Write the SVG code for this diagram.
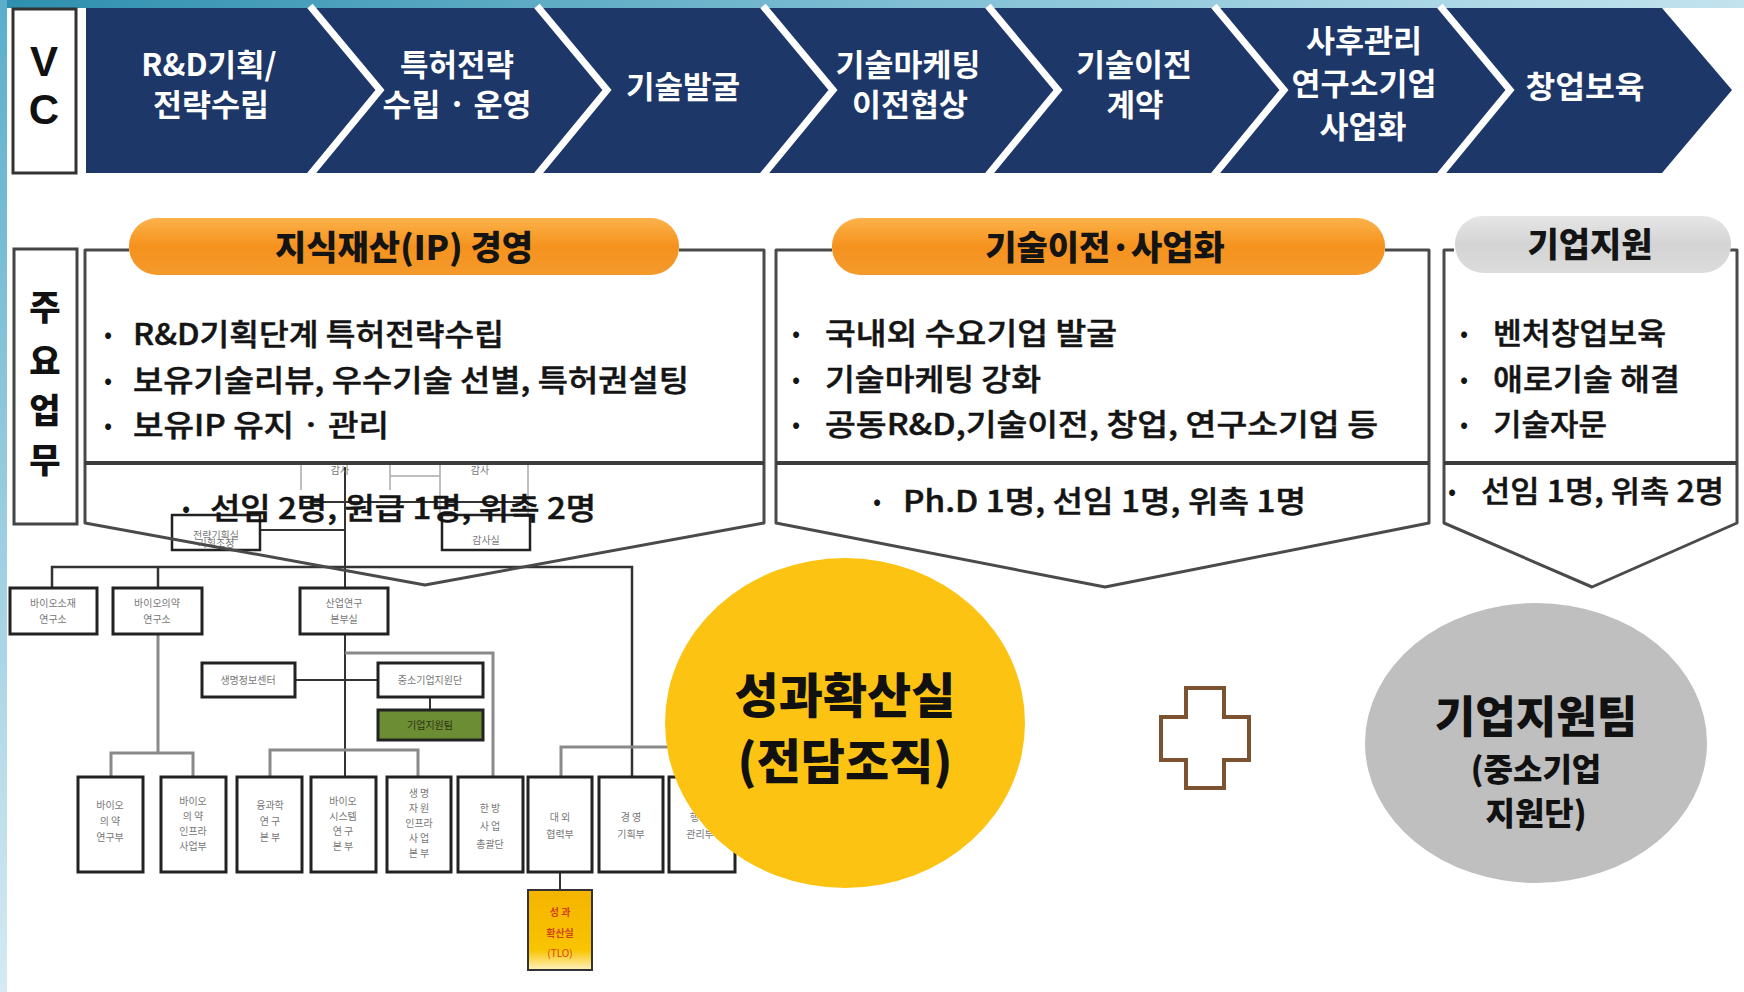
<svg xmlns="http://www.w3.org/2000/svg" width="1744" height="992" viewBox="0 0 1744 992">
<defs>
<linearGradient id="topBand" x1="0" y1="0" x2="1" y2="0"><stop offset="0" stop-color="#2d8fae"/><stop offset="0.6" stop-color="#8cc6da"/><stop offset="1" stop-color="#c3e3ee"/></linearGradient>
<linearGradient id="leftBand" x1="0" y1="0" x2="0" y2="1"><stop offset="0" stop-color="#5aaecb"/><stop offset="1" stop-color="#d5eaf3"/></linearGradient>
<linearGradient id="orangePill" x1="0" y1="0" x2="0" y2="1"><stop offset="0" stop-color="#fbb24a"/><stop offset="0.5" stop-color="#f6921e"/><stop offset="1" stop-color="#f39a2c"/></linearGradient>
<linearGradient id="grayPill" x1="0" y1="0" x2="0" y2="1"><stop offset="0" stop-color="#e6e6e6"/><stop offset="0.5" stop-color="#d4d4d4"/><stop offset="1" stop-color="#dcdcdc"/></linearGradient>
<linearGradient id="tloFill" x1="0" y1="0" x2="0" y2="1"><stop offset="0" stop-color="#f4b400"/><stop offset="0.75" stop-color="#f9c400"/><stop offset="1" stop-color="#fff1c0"/></linearGradient>
<style>
.chev{font-family:"Noto Sans CJK KR",sans-serif;font-weight:bold;font-size:31px;fill:#ffffff;text-anchor:middle;}
.bul{font-family:"Noto Sans CJK KR",sans-serif;font-weight:500;font-size:30px;fill:#141414;stroke:#141414;stroke-width:0.5;}
.dot{font-family:"Noto Sans CJK KR",sans-serif;font-size:24px;fill:#141414;}
.pillt{font-family:"Noto Sans CJK KR",sans-serif;font-weight:900;font-size:34px;fill:#141414;text-anchor:middle;}
.frame{fill:none;stroke:#4a4a4a;stroke-width:3;stroke-linejoin:round;}
.div{stroke:#3c3c3c;stroke-width:4;}
.sep{fill:none;stroke:#ffffff;stroke-width:7;}
.org{fill:#ffffff;stroke:#222;stroke-width:3;}
.orgT{fill:none;stroke:#333;stroke-width:2.5;}
.ot{font-family:"Noto Sans CJK KR",sans-serif;font-size:10px;fill:#777;text-anchor:middle;}
.lnD{stroke:#333;stroke-width:2;fill:none;}
.lnG{stroke:#8a8a8a;stroke-width:3;fill:none;}
.lnL{stroke:#aaa;stroke-width:1.5;fill:none;}
.big{font-family:"Noto Sans CJK KR",sans-serif;font-weight:900;fill:#111;text-anchor:middle;}
</style>
</defs>
<rect x="0" y="0" width="1744" height="992" fill="#ffffff"/>
<rect x="0" y="0" width="1744" height="8" fill="url(#topBand)"/>
<rect x="0" y="0" width="7" height="992" fill="url(#leftBand)"/>

<g id="vc-label">
<rect x="13" y="9" width="63" height="164" fill="#ffffff" stroke="#333" stroke-width="3"/>
<text x="44" y="76" font-family="Liberation Sans Narrow, Liberation Sans, sans-serif" font-weight="bold" font-size="42" fill="#111" text-anchor="middle">V</text>
<text x="44" y="124" font-family="Liberation Sans Narrow, Liberation Sans, sans-serif" font-weight="bold" font-size="42" fill="#111" text-anchor="middle">C</text>
</g>

<g id="value-chain">
<polygon points="86,8 1662,8 1732,90 1662,173 86,173" fill="#1d3769"/>
<polyline class="sep" points="310,6 380,90 310,175"/>
<polyline class="sep" points="537,6 607,90 537,175"/>
<polyline class="sep" points="763,6 833,90 763,175"/>
<polyline class="sep" points="988,6 1058,90 988,175"/>
<polyline class="sep" points="1214,6 1284,90 1214,175"/>
<polyline class="sep" points="1440,6 1510,90 1440,175"/>
<text class="chev" x="209" y="76">R&amp;D기획/</text>
<text class="chev" x="211" y="116" textLength="116" lengthAdjust="spacingAndGlyphs">전략수립</text>
<text class="chev" x="457" y="76" textLength="114" lengthAdjust="spacingAndGlyphs">특허전략</text>
<text class="chev" x="457" y="116" textLength="149" lengthAdjust="spacingAndGlyphs">수립 · 운영</text>
<text class="chev" x="683" y="98" textLength="114" lengthAdjust="spacingAndGlyphs">기술발굴</text>
<text class="chev" x="908" y="76" textLength="145" lengthAdjust="spacingAndGlyphs">기술마케팅</text>
<text class="chev" x="910" y="116" textLength="116" lengthAdjust="spacingAndGlyphs">이전협상</text>
<text class="chev" x="1134" y="76" textLength="116" lengthAdjust="spacingAndGlyphs">기술이전</text>
<text class="chev" x="1135" y="116" textLength="57" lengthAdjust="spacingAndGlyphs">계약</text>
<text class="chev" x="1364" y="52" textLength="116" lengthAdjust="spacingAndGlyphs">사후관리</text>
<text class="chev" x="1364" y="95" textLength="145" lengthAdjust="spacingAndGlyphs">연구소기업</text>
<text class="chev" x="1363" y="138" textLength="87" lengthAdjust="spacingAndGlyphs">사업화</text>
<text class="chev" x="1585" y="98" textLength="119" lengthAdjust="spacingAndGlyphs">창업보육</text>
</g>

<g id="main-work-label">
<rect x="14" y="249" width="63" height="275" fill="#ffffff" stroke="#444" stroke-width="3"/>
<text class="big" x="45" y="320" font-size="34">주</text>
<text class="big" x="45" y="374" font-size="34">요</text>
<text class="big" x="45" y="423" font-size="34">업</text>
<text class="big" x="45" y="473" font-size="34">무</text>
</g>

<g id="connectors">
<line class="lnL" x1="301" y1="463" x2="301" y2="490"/>
<line class="lnL" x1="390" y1="463" x2="390" y2="490"/>
<line class="lnL" x1="390" y1="476" x2="440" y2="476"/>
<line class="lnL" x1="440" y1="463" x2="440" y2="515"/>
<line class="lnL" x1="528" y1="463" x2="528" y2="515"/>
<line class="lnD" x1="301" y1="502" x2="528" y2="502"/>
<line class="lnD" x1="345" y1="467" x2="345" y2="588"/>
<line class="lnD" x1="260" y1="530" x2="345" y2="530"/>
<polyline class="orgT" points="52,588 52,567 632,567 632,777"/>
<line class="orgT" x1="158" y1="567" x2="158" y2="588"/>
<line class="lnG" x1="158" y1="634" x2="158" y2="753"/>
<polyline class="lnG" points="111,777 111,753 193,753 193,777"/>
<line class="lnD" x1="345" y1="634" x2="345" y2="777"/>
<line class="lnD" x1="295" y1="680" x2="378" y2="680"/>
<line class="lnD" x1="430" y1="697" x2="430" y2="710"/>
<polyline class="lnG" points="345,653 493,653 493,777"/>
<polyline class="lnG" points="270,777 270,750 418,750 418,777"/>
<polyline class="lnG" points="561,777 561,747 700,747"/>
<line class="lnD" x1="560" y1="872" x2="560" y2="890"/>
</g>

<g id="org-chart">
<text class="ot" x="340" y="474" font-size="8">감사</text>
<text class="ot" x="480" y="474" font-size="8">감사</text>
<rect x="172" y="515" width="88" height="35" fill="none" stroke="#222" stroke-width="2.5"/>
<text class="ot" x="216" y="539" font-size="7">전략기획실</text>
<text class="ot" x="216" y="547" font-size="6">기획조정</text>
<rect x="442" y="515" width="88" height="35" fill="none" stroke="#222" stroke-width="2.5"/>
<text class="ot" x="486" y="544" font-size="7">감사실</text>
<rect class="org" x="10" y="588" width="87" height="46"/>
<text class="ot" x="53" y="607">바이오소재</text><text class="ot" x="53" y="623">연구소</text>
<rect class="org" x="113" y="588" width="89" height="46"/>
<text class="ot" x="157" y="607">바이오의약</text><text class="ot" x="157" y="623">연구소</text>
<rect class="org" x="300" y="588" width="88" height="46"/>
<text class="ot" x="344" y="607">산업연구</text><text class="ot" x="344" y="623">본부실</text>
<rect class="org" x="202" y="663" width="93" height="34"/>
<text class="ot" x="248" y="684">생명정보센터</text>
<rect class="org" x="378" y="663" width="105" height="34"/>
<text class="ot" x="430" y="684">중소기업지원단</text>
<rect x="378" y="710" width="105" height="30" fill="#6d8d35" stroke="#222" stroke-width="3"/>
<text class="ot" x="430" y="729" style="fill:#2c3210">기업지원팀</text>
<rect class="org" x="78" y="777" width="65" height="95"/>
<text class="ot" x="110" y="809">바이오</text><text class="ot" x="110" y="825">의 약</text><text class="ot" x="110" y="841">연구부</text>
<rect class="org" x="161" y="777" width="65" height="95"/>
<text class="ot" x="193" y="805">바이오</text><text class="ot" x="193" y="820">의 약</text><text class="ot" x="193" y="835">인프라</text><text class="ot" x="193" y="850">사업부</text>
<rect class="org" x="237" y="777" width="65" height="95"/>
<text class="ot" x="270" y="809">융과학</text><text class="ot" x="270" y="825">연 구</text><text class="ot" x="270" y="841">본 부</text>
<rect class="org" x="311" y="777" width="65" height="95"/>
<text class="ot" x="343" y="805">바이오</text><text class="ot" x="343" y="820">시스템</text><text class="ot" x="343" y="835">연 구</text><text class="ot" x="343" y="850">본 부</text>
<rect class="org" x="387" y="777" width="64" height="95"/>
<text class="ot" x="419" y="797">생 명</text><text class="ot" x="419" y="812">자 원</text><text class="ot" x="419" y="827">인프라</text><text class="ot" x="419" y="842">사 업</text><text class="ot" x="419" y="857">본 부</text>
<rect class="org" x="458" y="777" width="65" height="95"/>
<text class="ot" x="490" y="812">한 방</text><text class="ot" x="490" y="830">사 업</text><text class="ot" x="490" y="848">총괄단</text>
<rect class="org" x="528" y="777" width="64" height="95"/>
<text class="ot" x="560" y="821">대 외</text><text class="ot" x="560" y="838">협력부</text>
<rect class="org" x="599" y="777" width="64" height="95"/>
<text class="ot" x="631" y="821">경 영</text><text class="ot" x="631" y="838">기획부</text>
<rect class="org" x="669" y="777" width="66" height="95"/>
<text class="ot" x="700" y="821">행 정</text><text class="ot" x="700" y="838">관리부</text>
<rect x="528" y="890" width="64" height="80" fill="url(#tloFill)" stroke="#333" stroke-width="2"/>
<text class="ot" x="560" y="916" style="fill:#d2441a;font-weight:bold" font-size="11">성 과</text>
<text class="ot" x="560" y="937" style="fill:#d2441a;font-weight:bold" font-size="11">확산실</text>
<text class="ot" x="560" y="957" style="fill:#d2441a" font-size="10">(TLO)</text>
</g>

<g id="ip-management">
<polyline class="frame" points="129,250 85,250 85,523 425,585 764,523 764,250 679,250"/>
<line class="div" x1="85" y1="463" x2="764" y2="463"/>
<rect x="129" y="218" width="550" height="57" rx="28" fill="url(#orangePill)"/>
<text class="pillt" x="404" y="260">지식재산(IP) 경영</text>
<text class="dot" x="104" y="343">•</text>
<text class="bul" x="133" y="345" textLength="371" lengthAdjust="spacingAndGlyphs">R&amp;D기획단계 특허전략수립</text>
<text class="dot" x="104" y="389">•</text>
<text class="bul" x="133" y="391" textLength="556" lengthAdjust="spacingAndGlyphs">보유기술리뷰, 우수기술 선별, 특허권설팅</text>
<text class="dot" x="104" y="434">•</text>
<text class="bul" x="133" y="436" textLength="256" lengthAdjust="spacingAndGlyphs">보유IP 유지 · 관리</text>
<text class="dot" x="182" y="517">•</text>
<text class="bul" x="210" y="519" font-size="31" textLength="386" lengthAdjust="spacingAndGlyphs">선임 2명, 원급 1명, 위촉 2명</text>
</g>

<g id="tech-transfer">
<polyline class="frame" points="832,250 776,250 776,523 1105,587 1429,523 1429,250 1385,250"/>
<line class="div" x1="776" y1="463" x2="1429" y2="463"/>
<rect x="832" y="218" width="553" height="57" rx="28" fill="url(#orangePill)"/>
<text class="pillt" x="1105" y="260">기술이전·사업화</text>
<text class="dot" x="792" y="342">•</text>
<text class="bul" x="825" y="344" textLength="292" lengthAdjust="spacingAndGlyphs">국내외 수요기업 발굴</text>
<text class="dot" x="792" y="388">•</text>
<text class="bul" x="825" y="390" textLength="216" lengthAdjust="spacingAndGlyphs">기술마케팅 강화</text>
<text class="dot" x="792" y="433">•</text>
<text class="bul" x="825" y="435" textLength="553" lengthAdjust="spacingAndGlyphs">공동R&amp;D,기술이전, 창업, 연구소기업 등</text>
<text class="dot" x="873" y="510">•</text>
<text class="bul" x="903" y="512" font-size="31" textLength="403" lengthAdjust="spacingAndGlyphs">Ph.D 1명, 선임 1명, 위촉 1명</text>
</g>

<g id="company-support">
<polyline class="frame" points="1454,250 1444,250 1444,523 1592,587 1737,523 1737,250 1730,250"/>
<line class="div" x1="1444" y1="463" x2="1737" y2="463"/>
<rect x="1455" y="216" width="276" height="57" rx="28" fill="url(#grayPill)"/>
<text class="pillt" x="1590" y="257">기업지원</text>
<text class="dot" x="1460" y="342">•</text>
<text class="bul" x="1493" y="344" textLength="173" lengthAdjust="spacingAndGlyphs">벤처창업보육</text>
<text class="dot" x="1460" y="388">•</text>
<text class="bul" x="1493" y="390" textLength="187" lengthAdjust="spacingAndGlyphs">애로기술 해결</text>
<text class="dot" x="1460" y="433">•</text>
<text class="bul" x="1493" y="435" textLength="114" lengthAdjust="spacingAndGlyphs">기술자문</text>
<text class="dot" x="1448" y="500">•</text>
<text class="bul" x="1481" y="502" font-size="31" textLength="243" lengthAdjust="spacingAndGlyphs">선임 1명, 위촉 2명</text>
</g>

<g id="tlo-circle">
<ellipse cx="845" cy="723" rx="180" ry="165" fill="#fcc313"/>
<text class="big" x="845" y="713" font-size="48">성과확산실</text>
<text class="big" x="845" y="779" font-size="48">(전담조직)</text>
</g>

<g id="plus-sign">
<path d="M1186,688 H1224 V717 H1249 V760 H1224 V788 H1186 V760 H1161 V717 H1186 Z" fill="#ffffff" stroke="#7b5331" stroke-width="4" stroke-linejoin="miter"/>
</g>

<g id="support-team-circle">
<ellipse cx="1536" cy="743" rx="171" ry="140" fill="#bfbfbf"/>
<text class="big" x="1536" y="733" font-size="44">기업지원팀</text>
<text class="big" x="1536" y="781" font-size="32">(중소기업</text>
<text class="big" x="1536" y="825" font-size="32">지원단)</text>
</g>
</svg>
